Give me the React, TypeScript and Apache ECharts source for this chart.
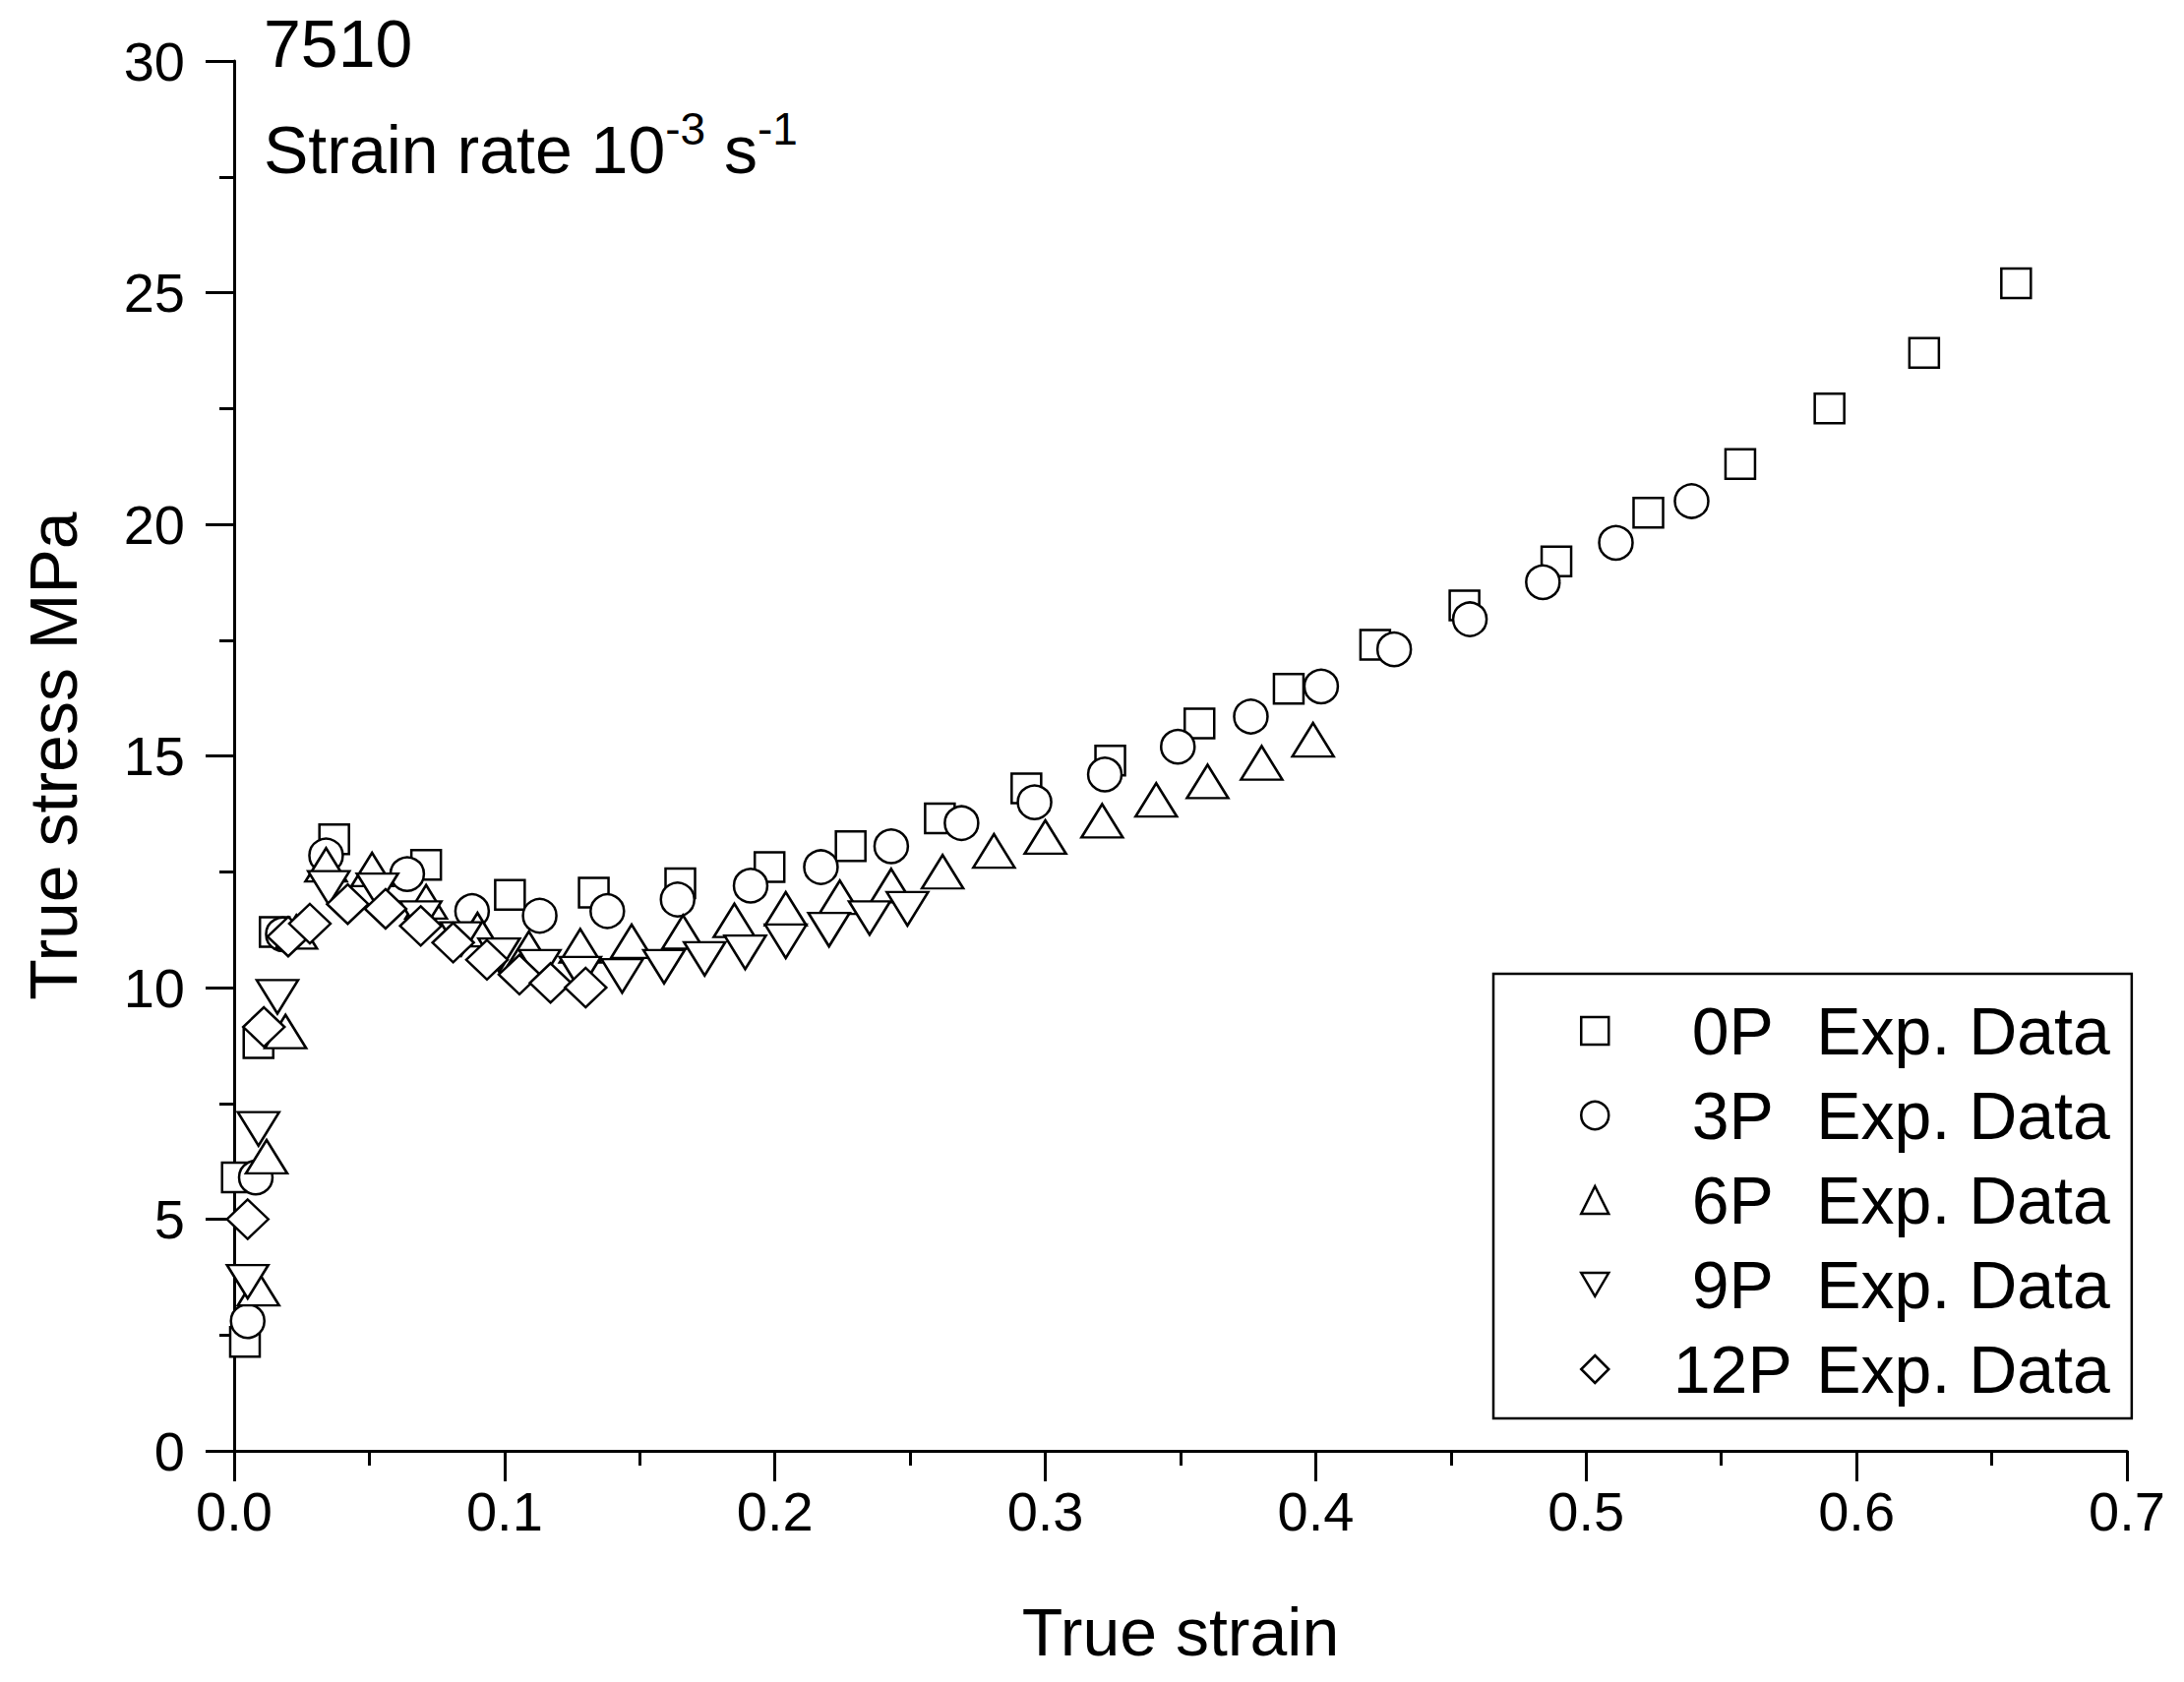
import React, { useEffect, useRef } from "react";
import * as echarts from "echarts";

const FONT = "'Liberation Sans', Arial, Helvetica, sans-serif";

const seriesNames = ["0P Exp. Data", "3P Exp. Data", "6P Exp. Data", "9P Exp. Data", "12P Exp. Data"];

const xAxisTitle = "True strain";
const yAxisTitle = "True stress MPa";
const alloyLabel = "7510";
const rateLabel = "Strain rate 10";
const rateExp = "-3";
const rateUnit = " s";
const rateUnitExp = "-1";

const data0P: [number, number][] = [
  [0.004, 2.35], [0.001, 5.9], [0.009, 8.8], [0.015, 11.2], [0.037, 13.2], [0.071, 12.65],
  [0.102, 12.0], [0.133, 12.05], [0.165, 12.25], [0.198, 12.6], [0.228, 13.05], [0.261, 13.65],
  [0.293, 14.3], [0.324, 14.9], [0.357, 15.7], [0.39, 16.45], [0.422, 17.4], [0.455, 18.25],
  [0.489, 19.2], [0.523, 20.25], [0.557, 21.3], [0.59, 22.5], [0.625, 23.7], [0.659, 25.2],
];

const data3P: [number, number][] = [
  [0.005, 2.8], [0.008, 5.9], [0.018, 11.15], [0.034, 12.85], [0.064, 12.45], [0.088, 11.65],
  [0.113, 11.55], [0.138, 11.65], [0.164, 11.9], [0.191, 12.2], [0.217, 12.6], [0.243, 13.05],
  [0.269, 13.55], [0.296, 14.0], [0.322, 14.6], [0.349, 15.2], [0.376, 15.85], [0.402, 16.5],
  [0.429, 17.3], [0.457, 17.95], [0.484, 18.75], [0.511, 19.6], [0.539, 20.5],
];

const data6P: [number, number][] = [
  [0.009, 3.5], [0.012, 6.35], [0.019, 9.05], [0.023, 11.2], [0.034, 12.65], [0.051, 12.55],
  [0.071, 11.85], [0.09, 11.25], [0.109, 10.85], [0.128, 10.9], [0.147, 11.0], [0.166, 11.2],
  [0.185, 11.45], [0.204, 11.7], [0.224, 11.95], [0.243, 12.2], [0.262, 12.5], [0.281, 12.95],
  [0.3, 13.25], [0.321, 13.6], [0.341, 14.05], [0.36, 14.45], [0.38, 14.85], [0.399, 15.35],
];

const data9P: [number, number][] = [
  [0.005, 3.65], [0.009, 6.95], [0.016, 9.8], [0.035, 12.15], [0.053, 12.1], [0.069, 11.5],
  [0.084, 11.05], [0.098, 10.7], [0.113, 10.45], [0.128, 10.3], [0.1435, 10.25], [0.159, 10.45],
  [0.174, 10.62], [0.189, 10.76], [0.204, 11.0], [0.22, 11.25], [0.235, 11.5], [0.249, 11.7],
];

const data12P: [number, number][] = [
  [0.005, 5.0], [0.011, 9.15], [0.02, 11.1], [0.028, 11.38], [0.042, 11.8], [0.056, 11.7],
  [0.069, 11.33], [0.081, 10.97], [0.0935, 10.6], [0.1055, 10.28], [0.117, 10.1], [0.13, 10.0],
];

const seriesData = [data0P, data3P, data6P, data9P, data12P];

const symbols = [
  "rect",
  "circle",
  "triangle",
  "path://M0,0L20,0L10,17Z",
  "diamond",
];
const symbolSizes: (number | number[])[] = [30, 34, [42, 34], [42, 34], [42, 40]];

export default function App() {
  const ref = useRef<HTMLDivElement>(null);

  useEffect(() => {
    document.body.style.margin = "0";
    if (!ref.current) return;
    const chart = echarts.init(ref.current, undefined, { renderer: "svg" });

    const series = seriesNames.map((name, i) => ({
      name,
      type: "scatter",
      data: seriesData[i],
      symbol: symbols[i],
      symbolSize: symbolSizes[i],
      itemStyle: { color: "#ffffff", borderColor: "#000000", borderWidth: 2.5, opacity: 1 },
      emphasis: { disabled: true },
      z: 2 + i,
    }));

    chart.setOption({
      animation: false,
      backgroundColor: "#ffffff",
      textStyle: { fontFamily: FONT, color: "#000" },
      grid: { left: 238, right: 58, top: 62, bottom: 235, containLabel: false },
      xAxis: {
        type: "value",
        min: 0,
        max: 0.7,
        interval: 0.1,
        name: xAxisTitle,
        nameLocation: "middle",
        nameGap: 150,
        nameTextStyle: { fontSize: 68, color: "#000", fontFamily: FONT },
        axisLine: { show: true, onZero: false, lineStyle: { color: "#000", width: 3 } },
        axisTick: { show: true, inside: false, length: 31, lineStyle: { color: "#000", width: 3 } },
        minorTick: { show: true, splitNumber: 2, length: 15, lineStyle: { color: "#000", width: 3 } },
        splitLine: { show: false },
        axisLabel: {
          fontSize: 56,
          color: "#000",
          fontFamily: FONT,
          margin: 33,
          formatter: (v: number) => v.toFixed(1),
        },
      },
      yAxis: {
        type: "value",
        min: 0,
        max: 30,
        interval: 5,
        name: yAxisTitle,
        nameLocation: "middle",
        nameGap: 150,
        nameRotate: 90,
        nameTextStyle: { fontSize: 68, color: "#000", fontFamily: FONT },
        axisLine: { show: true, onZero: false, lineStyle: { color: "#000", width: 3 } },
        axisTick: { show: true, inside: false, length: 29, lineStyle: { color: "#000", width: 3 } },
        minorTick: { show: true, splitNumber: 2, length: 15, lineStyle: { color: "#000", width: 3 } },
        splitLine: { show: false },
        axisLabel: { fontSize: 56, color: "#000", fontFamily: FONT, margin: 50 },
      },
      legend: {
        show: true,
        orient: "vertical",
        left: 1518,
        top: 990,
        itemWidth: 28,
        itemHeight: 28,
        itemGap: 0,
        padding: [15, 22, 7, 88],
        borderColor: "#000",
        borderWidth: 2.5,
        backgroundColor: "#fff",
        selectedMode: false,
        data: seriesNames,
        itemStyle: { borderWidth: 2.5, borderColor: "#000", color: "#fff" },
        textStyle: {
          fontSize: 68,
          color: "#000",
          fontFamily: FONT,
          lineHeight: 86,
          rich: {
            a: { fontSize: 68, lineHeight: 86, width: 170, align: "center", padding: [0, 0, 0, 36], fontFamily: FONT, color: "#000" },
            b: { fontSize: 68, lineHeight: 86, fontFamily: FONT, color: "#000" },
          },
        },
        formatter: (name: string) => {
          const idx = name.indexOf(" ");
          return `{a|${name.slice(0, idx)}}{b|${name.slice(idx + 1)}}`;
        },
      },
      graphic: [
        {
          type: "text",
          left: 268,
          top: 10,
          style: {
            text: alloyLabel,
            fontSize: 68,
            fontFamily: FONT,
            fill: "#000",
          },
        },
        {
          type: "text",
          left: 268,
          top: 108,
          style: {
            text: `{n|${rateLabel}}{s|${rateExp}}{n|${rateUnit}}{s|${rateUnitExp}}`,
            fontFamily: FONT,
            fill: "#000",
            rich: {
              n: { fontSize: 68, lineHeight: 88, fontFamily: FONT, fill: "#000" },
              s: { fontSize: 46, lineHeight: 36, verticalAlign: "top", fontFamily: FONT, fill: "#000" },
            },
          },
        },
      ],
      series,
    });

    return () => {
      chart.dispose();
    };
  }, []);

  return <div ref={ref} style={{ width: 2220, height: 1710, background: "#fff" }} />;
}
